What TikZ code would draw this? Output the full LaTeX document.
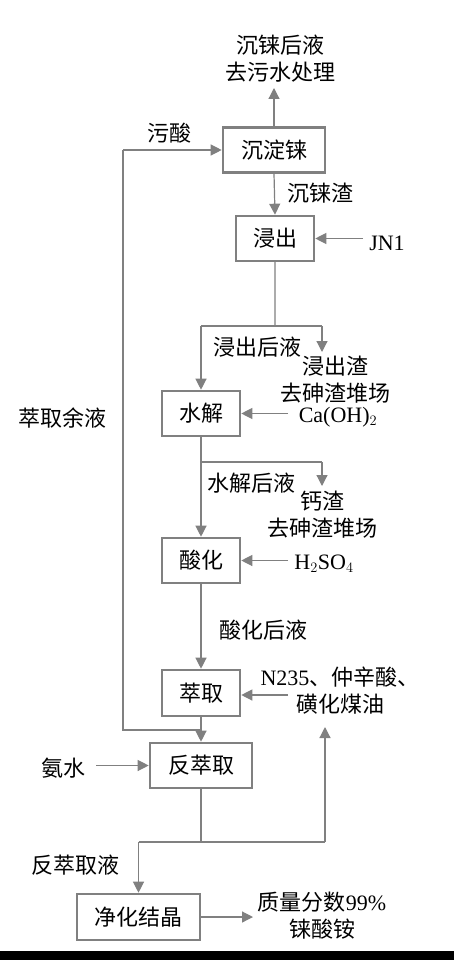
\documentclass[tikz,border=0pt]{standalone}
\usepackage{fontspec}
\setmainfont{Noto Sans CJK SC}
\newfontfamily\lat{Liberation Serif}
\usetikzlibrary{arrows.meta}
\begin{document}
\begin{tikzpicture}[x=1pt,y=-1pt,
  box/.style={draw=boxgray,line width=2.6pt,inner sep=0pt,minimum height=45pt,font=\fontsize{22}{27}\selectfont},
  lbl/.style={inner sep=0pt,align=center,font=\fontsize{22}{27}\selectfont},
  arr/.style={draw=linegray,line width=1.2pt,-{Triangle[length=11pt,width=11pt]}},
  ln/.style={draw=linegray,line width=1.2pt}]
\definecolor{boxgray}{RGB}{128,128,128}
\definecolor{linegray}{RGB}{128,128,128}
\useasboundingbox (0,0) rectangle (454,960);
\fill[white] (0,0) rectangle (454,960);
\fill[black] (0,951) rectangle (454,960);
% boxes
\node[box,minimum width=102pt] (b1) at (274,150) {沉淀铼};
\node[box,minimum width=78pt] (b2) at (275,238.5) {浸出};
\node[box,minimum width=78pt] (b3) at (201,413.5) {水解};
\node[box,minimum width=78pt] (b4) at (201,560.5) {酸化};
\node[box,minimum width=78pt,minimum height=46pt] (b5) at (201,693) {萃取};
\node[box,minimum width=102pt] (b6) at (201,765.5) {反萃取};
\node[box,minimum width=123pt,minimum height=46pt] (b7) at (138.5,917) {净化结晶};
% labels
\node[lbl] (t1) at (280,59) {沉铼后液\\去污水处理};
\node[lbl] (t2) at (169,133) {污酸};
\node[lbl] (t3) at (320,193) {沉铼渣};
\node[lbl,font=\fontsize{22}{27}\selectfont\lat] (t4) at (387,243) {JN1};
\node[lbl] (t5) at (257,347) {浸出后液};
\node[lbl] (t6) at (335,380) {浸出渣\\去砷渣堆场};
\node[lbl,font=\fontsize{22}{27}\selectfont\lat] (t7) at (338,417) {Ca(OH)$_2$};
\node[lbl] (t8) at (62,418) {萃取余液};
\node[lbl] (t9) at (251,483) {水解后液};
\node[lbl] (t10) at (322,515) {钙渣\\去砷渣堆场};
\node[lbl,font=\fontsize{22}{27}\selectfont\lat] (t11) at (324,564) {H$_2$SO$_4$};
\node[lbl] (t12) at (263,630) {酸化后液};
\node[lbl] (t13) at (340,691) {{\lat N235}、仲辛酸、\\磺化煤油};
\node[lbl] (t14) at (63,768) {氨水};
\node[lbl] (t15) at (75,865) {反萃取液};
\node[lbl] (t16) at (322,916) {质量分数{\lat 99\%}\\铼酸铵};
% coordinates
\coordinate (c1) at (274,88);
\coordinate (c2) at (363,238.5);
\coordinate (c3) at (275,326);
\coordinate (c4) at (201,326);
\coordinate (c5) at (322,326);
\coordinate (c6) at (322,352);
\coordinate (c7) at (288,413.5);
\coordinate (c8) at (201,462);
\coordinate (c9) at (322,462);
\coordinate (c10) at (322,486);
\coordinate (c11) at (288,560.5);
\coordinate (c12) at (288,695);
\coordinate (c13) at (201,730);
\coordinate (c14) at (123,730);
\coordinate (c15) at (123,151);
\coordinate (c16) at (96,765.5);
\coordinate (c17) at (201,842);
\coordinate (c18) at (138.5,842);
\coordinate (c19) at (325,842);
\coordinate (c20) at (325,727);
\coordinate (c21) at (253,917);
% connectors
\draw[arr] (b1.north) -- (c1);
\draw[arr] (c15 |- b1.west) -- (b1.west);
\draw[arr] (b1.south) -- (b2.north);
\draw[arr] (c2) -- (b2.east);
\draw[ln,draw=linegray!65] (b2.south) -- (c3);
\draw[ln] (c4) -- (c5);
\draw[arr] (c5) -- (c6);
\draw[arr] (c4) -- (b3.north);
\draw[arr] (c7) -- (b3.east);
\draw[ln] (c8) -- (c9);
\draw[arr] (c9) -- (c10);
\draw[arr] (b3.south) -- (b4.north);
\draw[arr] (c11) -- (b4.east);
\draw[arr] (b4.south) -- (b5.north);
\draw[arr] (c12) -- (c12 -| b5.east);
\draw[arr] (b5.south) -- (b6.north);
\draw[ln] (c13) -- (c14) -- (c15 |- b1.west);
\draw[arr] (c16) -- (b6.west);
\draw[ln] (b6.south) -- (c17);
\draw[ln] (c18) -- (c19);
\draw[arr] (c19) -- (c20);
\draw[arr] (c18) -- (b7.north);
\draw[arr] (b7.east) -- (c21);
\end{tikzpicture}
\end{document}
